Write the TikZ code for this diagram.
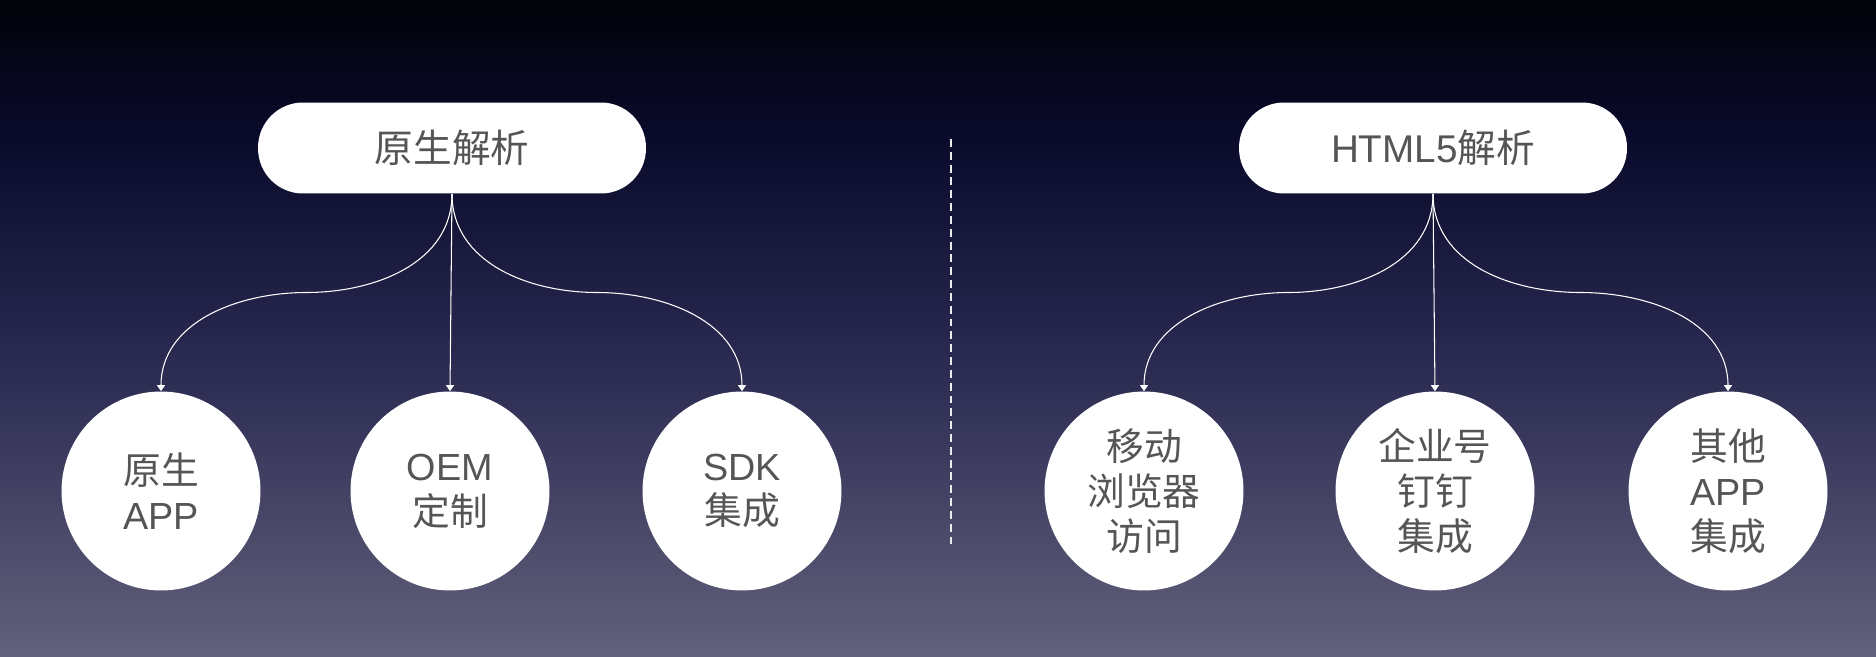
\documentclass[tikz,border=0pt]{standalone}
\usepackage{fontspec}
\setmainfont{Liberation Sans}
\newfontfamily\cjk{Noto Sans CJK SC}
\usepackage{tikz}
\usetikzlibrary{calc,arrows.meta}
\definecolor{txt}{RGB}{85,85,85}
\definecolor{bgtop}{RGB}{3,3,10}
\definecolor{bgnavy}{RGB}{9,9,42}
\definecolor{bgmid}{RGB}{42,42,82}
\definecolor{bgbot}{RGB}{98,96,122}
\pgfdeclareverticalshading{night}{100bp}{color(0bp)=(bgbot); color(25bp)=(bgbot); color(47.5bp)=(bgmid); color(65bp)=(bgnavy); color(75bp)=(bgtop); color(100bp)=(bgtop)}

\begin{document}
\begin{tikzpicture}[x=0.02cm,y=0.02cm,
    pill/.style={fill=white,rounded corners=0.9cm,minimum width=7.76cm,minimum height=1.82cm,
      inner sep=0pt,text=txt,font=\fontsize{22}{26}\selectfont},
    ball/.style={circle,fill=white,minimum size=3.98cm,inner sep=0pt,align=center,
      text=txt,font=\fontsize{21.5}{25.5}\selectfont},
    link/.style={white,line width=0.6pt,-{Triangle[length=0.12cm,width=0.16cm]}}]
  \shade[shading=night](0,0)rectangle(1876,656);
  % left half
  \node[pill](native)at(452,508){\cjk 原生解析};
  \node[ball](app)at(161,165){{\cjk 原生}\\APP};
  \node[ball](oem)at(450,165){OEM\\{\cjk 定制}};
  \node[ball](sdk)at(742,165){SDK\\{\cjk 集成}};
  \draw[link](native.south)to[out=-90,in=0]($(native.south)!.5!(app.north)$)to[out=180,in=90](app.north);
  \draw[link](native.south)--(oem.north);
  \draw[link](native.south)to[out=-90,in=180]($(native.south)!.5!(sdk.north)$)to[out=0,in=90](sdk.north);
  % separator
  \draw[white!85!gray,line width=0.6pt,dash pattern=on 4.5pt off 2.8pt](951,517)--(951,112);
  % right half
  \node[pill](h5)at(1433,508){HTML5{\cjk 解析}};
  \node[ball](mobile)at(1144,165){\cjk 移动\\\cjk 浏览器\\\cjk 访问};
  \node[ball](dd)at(1435,165){\cjk 企业号\\\cjk 钉钉\\\cjk 集成};
  \node[ball](other)at(1728,165){{\cjk 其他}\\APP\\{\cjk 集成}};
  \draw[link](h5.south)to[out=-90,in=0]($(h5.south)!.5!(mobile.north)$)to[out=180,in=90](mobile.north);
  \draw[link](h5.south)--(dd.north);
  \draw[link](h5.south)to[out=-90,in=180]($(h5.south)!.5!(other.north)$)to[out=0,in=90](other.north);
\end{tikzpicture}
\end{document}
